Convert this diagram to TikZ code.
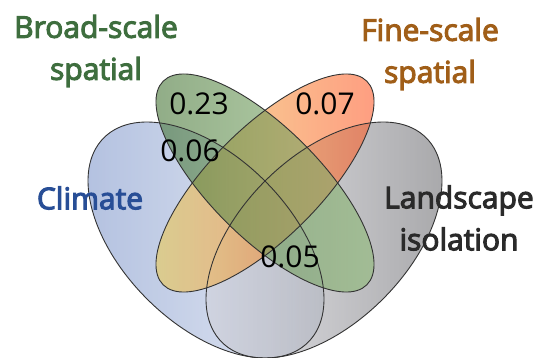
\documentclass[tikz,border=0pt]{standalone}
\usepackage{fontspec}
\setmainfont{Open Sans}
\newfontfamily\labelfont{Open Sans}[FakeBold=3.5]

% set colours, left and right end of each gradient
\definecolor{climL}{RGB}{120,145,200}
\definecolor{climR}{RGB}{212,220,236}
\definecolor{landL}{RGB}{218,218,226}
\definecolor{landR}{RGB}{100,100,104}
\definecolor{broadL}{RGB}{60,108,44}
\definecolor{broadR}{RGB}{150,195,125}
\definecolor{fineL}{RGB}{235,212,85}
\definecolor{fineM}{RGB}{255,175,65}
\definecolor{fineR}{RGB}{255,80,35}
% label colours
\definecolor{climtxt}{RGB}{40,78,150}
\definecolor{landtxt}{RGB}{42,42,42}
\definecolor{broadtxt}{RGB}{62,110,62}
\definecolor{finetxt}{RGB}{160,94,24}

\begin{document}
\begin{tikzpicture}[x=1pt,y=-1pt,
    venn/.style={fill opacity=0.58,draw=none},
    rim/.style={draw=black!80,line width=0.9pt},
    setlabel/.style={font=\labelfont\fontsize{30}{42}\selectfont,align=center},
    share/.style={font=\fontsize{30}{30}\selectfont,anchor=base}]
  \useasboundingbox (0,0) rectangle (541,358);

  % centres of the four ellipses
  \coordinate (climc) at (206,240);
  \coordinate (landc) at (324,240);
  \coordinate (broadc) at (265,183);
  \coordinate (finec) at (265,183);

  % the fills
  \shade[venn,left color=climL,right color=climR,rotate around={-45:(climc)}] (climc) ellipse (144.5 and 83.4);
  \shade[venn,left color=landL,right color=landR,rotate around={45:(landc)}] (landc) ellipse (144.5 and 83.4);
  \shade[venn,left color=fineL,middle color=fineM,right color=fineR,rotate around={45:(finec)}] (finec) ellipse (144 and 55);
  \shade[venn,left color=broadL,right color=broadR,rotate around={-45:(broadc)}] (broadc) ellipse (144 and 55);

  %% the outlines on top
  \foreach \c/\r/\a/\b in {climc/-45/144.5/83.4,landc/45/144.5/83.4,finec/45/144/55,broadc/-45/144/55}
    \draw[rim,rotate around={\r:(\c)}] (\c) ellipse ({\a} and {\b});

  % set names
  \node[setlabel,text=broadtxt] (broad) at (96,51) {Broad-scale\\spatial};
  \node[setlabel,text=finetxt] (fine) at (430,54) {Fine-scale\\spatial};
  \node[setlabel,text=climtxt] (climate) at (90,198) {Climate};
  \node[setlabel,text=landtxt] (land) at (459,218) {Landscape\\isolation};

  % shares
  \node[share] (sbroad) at (199,115) {0.23};
  \node[share] (sfine) at (325,115) {0.07};
  \node[share] (sbc) at (190,162) {0.06};
  \node[share] (sall) at (290,268) {0.05};
\end{tikzpicture}
\end{document}
